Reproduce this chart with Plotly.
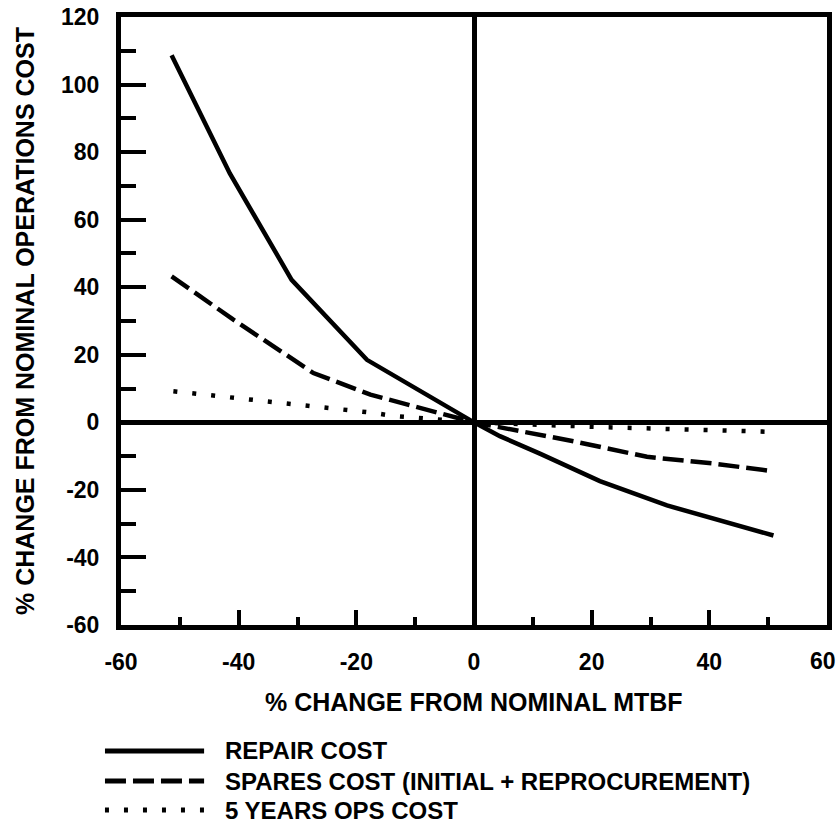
import plotly.graph_objects as go

# ---- data ----
repair_x = [-51.4, -41.5, -31.0, -23.9, -18.2, 0, 4.4, 11.2, 21.4, 32.8, 50.9]
repair_y = [108.7, 73.7, 42.2, 28.9, 18.5, 0, -4.1, -9.25, -17.4, -24.6, -33.5]

spares_x = [-51.4, -40.9, -27.3, -17.6, 0, 16.9, 29.4, 40.7, 50.9]
spares_y = [43.2, 30.4, 14.6, 8.2, 0, -5.6, -10.2, -12.2, -14.5]

ops_x = [-51.1, -30.7, -23.9, -17.1, -13.7, 0, 21.4, 35.6, 50.3]
ops_y = [9.2, 5.5, 4.3, 2.8, 1.9, 0, -1.4, -2.2, -2.8]

series_names = ["REPAIR COST", "SPARES COST (INITIAL + REPROCUREMENT)", "5 YEARS OPS COST"]
series_dash = ["solid", "21px,7px", "4px,15px"]

x_tickvals = [-60, -40, -20, 0, 20, 40, 60]
x_ticktext = ["-60", "-40", "-20", "0", "20", "40", "60"]
y_tickvals = [-60, -40, -20, 0, 20, 40, 60, 80, 100, 120]
y_ticktext = ["-60", "-40", "-20", "0", "20", "40", "60", "80", "100", "120"]

x_title = "% CHANGE FROM NOMINAL MTBF"
y_title = "% CHANGE FROM NOMINAL OPERATIONS COST"
x_range = [-60, 60]
y_range = [-60, 120]

FONT = "Liberation Sans, Arial, sans-serif"
FRAME_W = 5
CURVE_W = 4.5

fig = go.Figure()
for xs, ys, name, dash in zip([repair_x, spares_x, ops_x], [repair_y, spares_y, ops_y],
                              series_names, series_dash):
    fig.add_trace(go.Scatter(x=xs, y=ys, mode="lines", name=name,
                             line=dict(color="black", width=CURVE_W, dash=dash),
                             showlegend=False, hoverinfo="skip"))

tick_font = dict(family=FONT, size=23, color="black", weight="bold")
axis_common = dict(
    showline=True, linecolor="black", linewidth=FRAME_W, mirror=True,
    showgrid=False, zeroline=True, zerolinecolor="black", zerolinewidth=FRAME_W,
    ticks="inside", tickwidth=4, tickcolor="black", tickmode="array",
    tickfont=tick_font, ticklabelstandoff=12,
)
# the last x label sits at the very edge of the page; it is drawn as an annotation
# nudged left so that it is not clipped
fig.update_xaxes(range=x_range, tickvals=x_tickvals,
                 ticktext=x_ticktext[:-1] + [""], ticklen=15,
                 minor=dict(ticks="inside", dtick=10, tick0=0, ticklen=8, tickwidth=4,
                            tickcolor="black"),
                 **axis_common)
fig.update_yaxes(range=y_range, tickvals=y_tickvals, ticktext=y_ticktext, ticklen=25,
                 minor=dict(ticks="inside", dtick=10, tick0=0, ticklen=15, tickwidth=4,
                            tickcolor="black"),
                 **axis_common)

annots = [
    dict(text=x_ticktext[-1], x=x_tickvals[-1], xref="x", y=-0.0592, yref="paper",
         xanchor="center", yanchor="middle", xshift=-4, showarrow=False, font=tick_font),
    dict(text=x_title, x=0.5, y=-0.1266, xref="paper", yref="paper",
         xanchor="center", yanchor="middle", showarrow=False,
         font=dict(family=FONT, size=25, color="black", weight="bold")),
    dict(text=y_title, x=-0.136, y=0.5, xref="paper", yref="paper", textangle=-90,
         xanchor="center", yanchor="middle", showarrow=False,
         font=dict(family=FONT, size=25, color="black", weight="bold")),
]
shapes = []
leg_y = [-0.2072, -0.2566, -0.3043]
for name, dash, yy in zip(series_names, series_dash, leg_y):
    shapes.append(dict(type="line", xref="paper", yref="paper", x0=-0.0227, x1=0.1177,
                       y0=yy, y1=yy, line=dict(color="black", width=5, dash=dash)))
    annots.append(dict(text=name, x=0.1447, y=yy, xref="paper", yref="paper",
                       xanchor="left", yanchor="middle", showarrow=False,
                       font=dict(family=FONT, size=24, color="black", weight="bold")))

fig.update_layout(
    width=838, height=825,
    margin=dict(l=121, r=11, t=17, b=200, autoexpand=False),
    paper_bgcolor="white", plot_bgcolor="white",
    annotations=annots, shapes=shapes, hovermode=False,
)

fig.write_html("out.html", config={"displayModeBar": False},
               post_script="document.body.style.margin='0';")
